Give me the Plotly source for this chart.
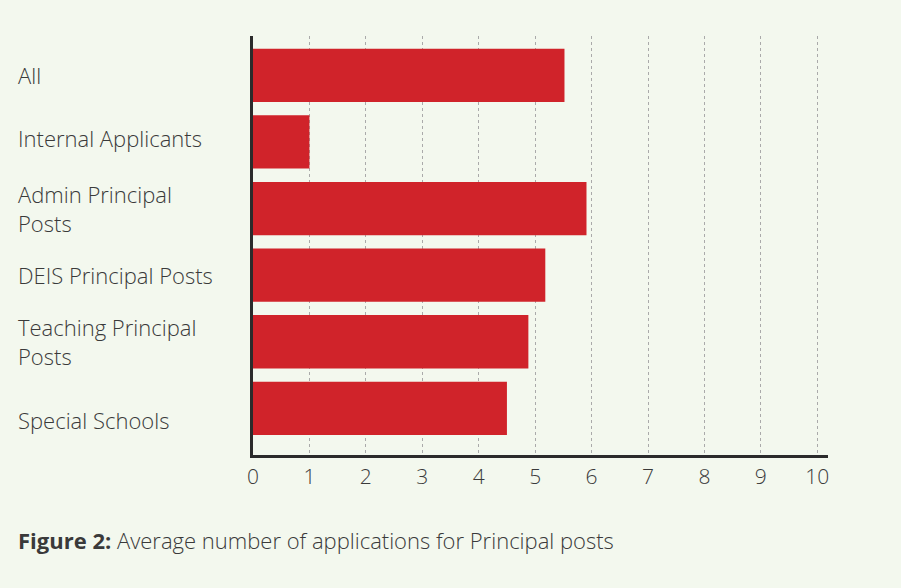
import plotly.graph_objects as go

categories = ["All", "Internal Applicants", "Admin Principal<br>Posts", "DEIS Principal Posts",
              "Teaching Principal<br>Posts", "Special Schools"]
values = [5.52, 1.0, 5.91, 5.18, 4.88, 4.5]
x_ticks = list(range(0, 11))
caption = "<b>Figure 2:</b> Average number of applications for Principal posts"

# label vertical nudges (px), style only
label_shift = {"Special Schools": -12, "Internal Applicants": 4}

# plot bottom-to-top
cats_rev = categories[::-1]
vals_rev = values[::-1]
ypos = list(range(len(cats_rev)))

BG = "#f3f8ee"
RED = "#d0232a"
TXT = "#3a3a3a"
FONT = "Open Sans"

fig = go.Figure()
fig.add_trace(go.Bar(
    y=ypos, x=vals_rev, orientation="h",
    marker=dict(color=RED, line=dict(width=0)),
    width=0.8, hoverinfo="x",
))

for yi, lab in zip(ypos, cats_rev):
    fig.add_annotation(
        x=0, xref="paper", xshift=-237, y=yi, yref="y", yshift=label_shift.get(lab, 0),
        text=lab, showarrow=False, xanchor="left", yanchor="middle", align="left",
        font=dict(family=FONT, size=22, color=TXT, weight=300),
    )

fig.add_annotation(
    x=0, xref="paper", xshift=-237, y=-0.203, yref="paper",
    text=caption, showarrow=False, xanchor="left", yanchor="middle", align="left",
    font=dict(family=FONT, size=22, color=TXT, weight=300),
)

fig.update_layout(
    width=901, height=588,
    margin=dict(l=253, r=73, t=36, b=133),
    paper_bgcolor=BG, plot_bgcolor=BG,
    showlegend=False,
    xaxis=dict(
        range=[0, 10.19], tickvals=x_ticks, ticktext=[str(t) for t in x_ticks],
        showgrid=True, gridcolor="#aaaaaa", griddash="dot", gridwidth=1,
        showline=True, linecolor="#2b2b2b", linewidth=3,
        ticks="outside", ticklen=1, tickcolor=BG,
        tickfont=dict(family=FONT, size=21, color=TXT, weight=300),
        zeroline=False, fixedrange=True,
    ),
    yaxis=dict(
        range=[-0.7, 5.59], showticklabels=False, showgrid=False,
        showline=True, linecolor="#2b2b2b", linewidth=3,
        zeroline=False, fixedrange=True,
    ),
)

fig.write_html("out.html")
